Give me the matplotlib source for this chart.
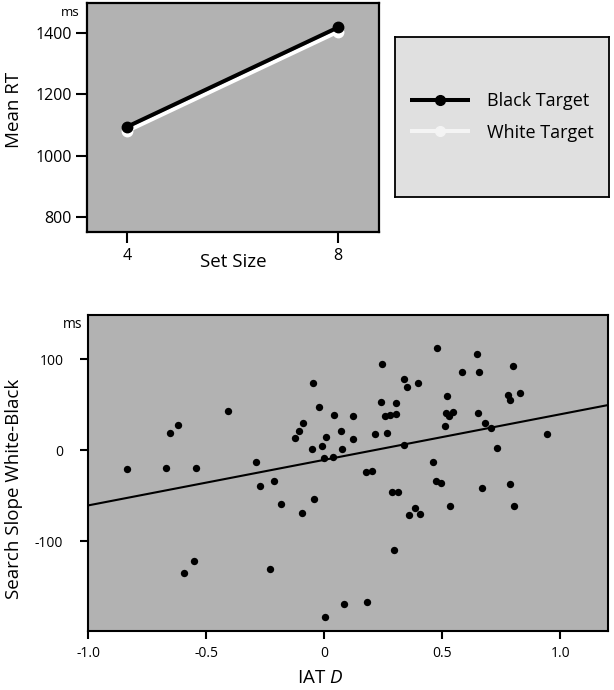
import numpy as np
import matplotlib
matplotlib.use("Agg")
import matplotlib.pyplot as plt

plt.rcParams["font.family"] = ["Open Sans", "DejaVu Sans"]
plt.rcParams["mathtext.fontset"] = "custom"
plt.rcParams["mathtext.rm"] = "Open Sans"
plt.rcParams["mathtext.it"] = "Open Sans:italic"

# ── Data ──────────────────────────────────────────────────────────────
SET_SIZES = [4, 8]
RT_BLACK = [1094, 1419]
RT_WHITE = [1080, 1405]

IAT_D = [-0.838, -0.671, -0.545, -0.653, -0.620, -0.406, -0.291, -0.047,
         -0.021, 0.041, -0.088, -0.107, -0.123, 0.006, 0.072, -0.051,
         -0.011, 0.075, -0.001, 0.038, 0.480, 0.647, 0.244, 0.586,
         0.657, 0.340, 0.352, 0.397, 0.522, 0.242, 0.305, 0.124,
         0.256, 0.281, 0.306, 0.516, 0.528, 0.548, 0.654, 0.510,
         0.122, 0.215, 0.267, 0.340, 0.463, 0.179, 0.203, 0.800,
         0.778, 0.788, 0.829, 0.683, 0.709, 0.945, 0.734, 0.475,
         0.496, 0.287, 0.311, 0.668, 0.789, 0.360, 0.387, 0.408,
         0.534, 0.805, 0.298, 0.082, 0.181, -0.272, -0.213, -0.181,
         -0.096, -0.044, -0.552, -0.593, -0.229, 0.004]
SLOPE_DIFF = [-20.9, -19.1, -19.1, 19.1, 27.6, 42.7, -13.2, 74.2,
              47.4, 38.9, 29.8, 21.3, 13.2, 14.3, 21.3, 1.1,
              5.2, 1.1, -8.8, -7.7, 112.1, 106.2, 94.5, 85.7,
              85.7, 78.6, 69.1, 73.5, 59.5, 52.9, 52.2, 37.2,
              37.8, 38.3, 40.0, 40.5, 37.5, 41.9, 41.1, 26.5,
              12.5, 18.4, 18.7, 5.5, -13.2, -23.5, -22.4, 92.6,
              61.0, 55.5, 62.8, 29.8, 24.6, 18.0, 2.2, -33.4,
              -35.6, -45.5, -45.5, -41.1, -36.7, -71.7, -63.6, -69.8,
              -61.4, -61.4, -109.2, -169.5, -166.8, -38.9, -33.4, -59.2,
              -69.1, -53.7, -121.6, -134.5, -130.4, -183.0]

FIT_INTERCEPT = -10.5
FIT_SLOPE = 50.1

PANEL_BG = "#b2b2b2"
LEGEND_BG = "#e0e0e0"

fig = plt.figure(figsize=(6.14, 6.90), dpi=100)

# ── Top panel: mean RT by set size ────────────────────────────────────
ax1 = fig.add_axes([0.1422, 0.6633, 0.4751, 0.3319])
ax1.set_facecolor(PANEL_BG)
l_white, = ax1.plot(SET_SIZES, RT_WHITE, color="white", lw=2.9,
                    marker="o", markersize=7.5, label="White Target",
                    solid_capstyle="butt")
l_black, = ax1.plot(SET_SIZES, RT_BLACK, color="black", lw=2.9,
                    marker="o", markersize=7.5, label="Black Target",
                    solid_capstyle="butt")
ax1.set_xlim(3.25, 8.78)
ax1.set_ylim(749, 1498)
ax1.set_xticks(SET_SIZES)
ax1.set_yticks([800, 1000, 1200, 1400])
ax1.tick_params(direction="out", length=8, width=1.5, labelsize=11.5, pad=3)
for sp in ax1.spines.values():
    sp.set_linewidth(1.6)
ax1.set_xlabel("Set Size", fontsize=13.5, va="center")
ax1.xaxis.set_label_coords(0.5, -0.13)
ax1.set_ylabel("Mean RT", fontsize=13.5, va="center")
ax1.yaxis.set_label_coords(-0.251, 0.534)
ax1.text(-0.025, 0.962, "ms", transform=ax1.transAxes, fontsize=9.5,
         ha="right", va="center")

# ── Legend panel ──────────────────────────────────────────────────────
axl = fig.add_axes([0.6433, 0.7149, 0.349, 0.231])
axl.set_facecolor(LEGEND_BG)
axl.set_xticks([])
axl.set_yticks([])
for sp in axl.spines.values():
    sp.set_linewidth(1.3)
leg = axl.legend([l_black, l_white], ["Black Target", "White Target"],
                 loc="center left", frameon=False, fontsize=13,
                 handlelength=3.3, handletextpad=0.95, labelspacing=0.75,
                 borderaxespad=0.45)
for h in leg.legend_handles:
    h.set_markersize(7)
leg.legend_handles[1].set_color("#f4f4f4")

# ── Bottom panel: scatter of IAT D vs. slope difference ──────────────
ax2 = fig.add_axes([0.1438, 0.0859, 0.8464, 0.4575])
ax2.set_facecolor(PANEL_BG)
ax2.scatter(IAT_D, SLOPE_DIFF, s=28, color="black", zorder=3, linewidths=0)
xs = np.array([-1.0, 1.203])
ax2.plot(xs, FIT_INTERCEPT + FIT_SLOPE * xs, color="black", lw=1.5, zorder=2)
ax2.set_xlim(-1.0, 1.203)
ax2.set_ylim(-198.5, 148.8)
ax2.set_xticks([-1.0, -0.5, 0, 0.5, 1.0])
ax2.set_xticklabels(["-1.0", "-0.5", "0", "0.5", "1.0"])
ax2.set_yticks([-100, 0, 100])
ax2.set_yticklabels(["-100", "0", "100"])
ax2.tick_params(direction="out", length=6, width=1.5, labelsize=10, pad=5)
ax2.tick_params(axis="y", pad=12)
for sp in ax2.spines.values():
    sp.set_linewidth(1.5)
ax2.set_xlabel("IAT $\\mathit{D}$", fontsize=13.5, va="center")
ax2.xaxis.set_label_coords(0.446, -0.15)
ax2.set_ylabel("Search Slope White-Black", fontsize=13.5, va="center")
ax2.yaxis.set_label_coords(-0.143, 0.45)
ax2.text(-0.012, 0.97, "ms", transform=ax2.transAxes, fontsize=10,
         ha="right", va="center")

fig.savefig("out.png", dpi=100)
